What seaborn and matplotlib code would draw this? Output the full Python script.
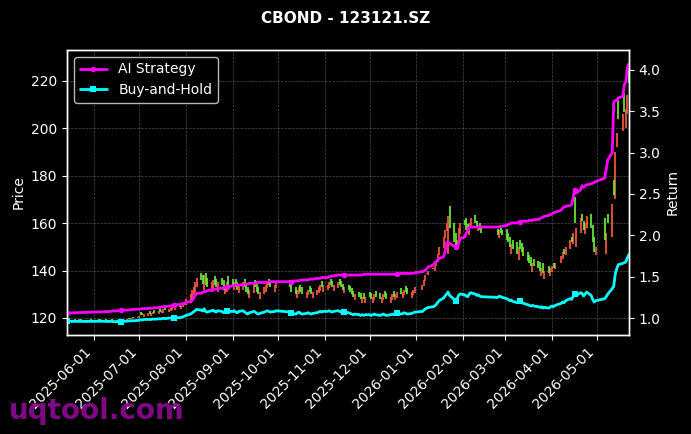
import pandas as pd
import numpy as np
import matplotlib
matplotlib.use('Agg')
import matplotlib.pyplot as plt
import matplotlib.dates as mdates
import seaborn as sns

# Trading calendar (SZ exchange holidays in the window)
holidays = ['2025-06-02', '2025-10-01', '2025-10-02', '2025-10-03', '2025-10-06',
            '2025-10-07', '2025-10-08', '2026-01-01', '2026-01-02', '2026-02-16',
            '2026-02-17', '2026-02-18', '2026-02-19', '2026-02-20', '2026-02-23',
            '2026-04-06', '2026-05-01', '2026-05-04', '2026-05-05']
dates = pd.bdate_range('2025-05-14', '2026-05-22', freq='C', holidays=holidays)

close_px = [
    119.2, 119.0, 119.3, 119.1, 118.9, 119.2, 119.4, 119.1, 119.0, 118.8, 119.1, 119.3, 119.0,
    119.2, 119.4, 119.1, 119.3, 119.0, 118.8, 119.1, 119.3, 118.9, 118.6, 118.5, 118.3, 118.7,
    119.0, 119.4, 119.5, 119.8, 120.1, 119.9, 120.4,
    121.0, 121.4, 121.2, 121.8, 122.1, 121.7, 122.3, 122.6, 122.2, 123.0, 122.7, 123.3, 123.6,
    123.2, 123.9, 124.2, 124.5, 124.1, 124.6, 124.5, 125.2, 125.9, 126.8,
    128.0, 130.0, 131.6, 133.0, 135.0, 137.0, 136.0, 134.5, 138.0, 134.0, 133.0, 135.0, 136.0,
    134.0, 133.0, 135.0, 134.0, 132.0, 133.0, 135.0, 134.0,
    134, 135, 133, 132, 134, 135, 133, 131, 130, 132, 134, 133, 131, 130, 131, 133, 134, 135,
    134, 133, 134, 135,
    133, 131, 130, 132, 133, 131, 130, 131, 132, 131, 130, 131, 132, 133, 134, 133, 134,
    134, 135, 134, 133, 134, 135, 134, 133, 132, 133, 132, 131, 130, 129, 130, 129, 128, 129,
    128, 129,
    129, 128, 129, 130, 129, 128, 129, 130, 129, 128, 129, 130, 129, 130, 131, 130, 131, 132,
    131, 130, 131, 132, 133,
    134, 136, 138, 139, 140, 141, 142, 144, 147, 150, 154, 157, 160, 163, 158, 152, 150, 153,
    158, 160,
    159, 157, 156, 160, 162, 160, 158, 159, 157, 156, 155, 157, 156, 155,
    153, 152, 150, 151, 149, 147, 150, 149, 148, 146, 144, 143, 142, 143, 142, 141, 140, 141,
    139, 140, 139, 141,
    142, 141, 143, 146, 148, 147, 150, 153, 152, 156, 160, 158, 162, 161, 157, 160, 163, 158,
    152, 148, 150,
    153, 156, 160, 168, 172, 190, 198, 204, 206, 207, 208, 214, 219,
]

open_px = [
    119.0, 119.4, 118.9, 119.5, 119.2, 118.8, 119.0, 119.6, 119.3, 119.2, 118.7, 119.0, 119.5,
    118.8, 119.0, 119.6, 118.9, 119.4, 119.2, 118.7, 119.0, 119.5, 119.0, 118.8, 118.7, 118.3,
    118.6, 119.0, 119.8, 119.4, 119.7, 120.4, 119.8,
    119.8, 122.5, 122.3, 120.6, 121.0, 123.0, 121.0, 121.5, 123.5, 121.8, 124.0, 122.0, 122.3,
    124.6, 122.6, 123.0, 123.3, 125.4, 123.3, 125.8, 123.8, 124.5, 125.3,
    125.5, 126.5, 128.0, 129.5, 131.0, 133.0, 139.0, 138.0, 132.0, 139.0, 137.0, 131.0, 132.5,
    137.5, 136.5, 131.0, 137.0, 136.0, 130.0, 131.0, 137.5,
    136.5, 132.0, 136.5, 135.0, 130.5, 132.0, 136.5, 134.5, 133.0, 128.5, 130.5, 136.0, 134.5,
    133.0, 128.0, 130.0, 131.0, 132.5, 136.5, 135.5, 131.0, 132.5,
    136.0, 134.5, 133.0, 128.5, 130.0, 134.0, 133.0, 128.5, 129.5, 133.5, 132.5, 128.5, 129.5,
    130.5, 131.5, 135.5, 131.0,
    132.0, 132.5, 136.5, 135.5, 131.5, 132.5, 136.5, 135.5, 134.5, 130.5, 134.0, 133.5, 132.5,
    131.5, 127.5, 131.0, 130.5, 126.5, 130.5, 126.5,
    131.0, 130.5, 126.5, 127.5, 131.5, 130.5, 126.5, 127.5, 131.5, 130.5, 126.5, 127.5, 131.5,
    127.5, 128.5, 132.5, 128.5, 129.5, 133.5, 132.5, 128.5, 129.5, 130.5,
    132.0, 133.5, 135.5, 138.5, 138.0, 140.5, 140.0, 142.0, 143.5, 146.5, 149.5, 153.5, 156.5,
    147.0, 167.0, 160.0, 156.0, 148.5, 151.0, 155.5,
    161.5, 162.0, 159.5, 155.0, 158.0, 163.5, 161.0, 156.5, 160.0, 158.5, 157.5, 153.5, 158.0,
    157.0,
    157.5, 156.0, 154.0, 147.0, 153.0, 152.0, 144.5, 153.0, 151.5, 150.0, 148.0, 146.5, 145.5,
    139.5, 145.0, 144.0, 143.5, 137.5, 143.0, 136.5, 142.0, 137.5,
    139.5, 143.0, 140.5, 143.0, 145.0, 149.0, 146.5, 149.0, 154.0, 151.0, 171.0, 150.0, 156.0,
    164.0, 161.0, 155.5, 158.0, 164.0, 159.0, 154.0, 146.5,
    162.0, 147.0, 164.0, 154.0, 178.0, 170.0, 192.0, 212.0, 199.0, 215.0, 200.0, 206.0, 227.0,
]

ai_return = [
    1.060, 1.061, 1.062, 1.063, 1.064, 1.065, 1.066, 1.067, 1.068, 1.069, 1.070, 1.071, 1.072,
    1.073, 1.074, 1.075, 1.076, 1.077, 1.078, 1.080, 1.082, 1.084, 1.086, 1.088, 1.090, 1.092,
    1.094, 1.096, 1.098, 1.100, 1.102, 1.104, 1.106,
    1.108, 1.110, 1.112, 1.114, 1.116, 1.118, 1.120, 1.122, 1.124, 1.127, 1.130, 1.133, 1.136,
    1.140, 1.144, 1.148, 1.152, 1.156, 1.160, 1.165, 1.170, 1.175, 1.180,
    1.19, 1.20, 1.21, 1.24, 1.27, 1.30, 1.30, 1.31, 1.32, 1.32, 1.33, 1.34, 1.34, 1.35, 1.35,
    1.36, 1.36, 1.37, 1.37, 1.38, 1.38,
    1.39, 1.39, 1.40, 1.40, 1.40, 1.40, 1.41, 1.41, 1.41, 1.42, 1.42, 1.42, 1.43, 1.43, 1.43,
    1.43, 1.43, 1.43, 1.44, 1.44, 1.44, 1.44,
    1.44, 1.44, 1.45, 1.45, 1.45, 1.46, 1.46, 1.46, 1.46, 1.47, 1.47, 1.47, 1.48, 1.48, 1.48,
    1.49, 1.49,
    1.49, 1.50, 1.50, 1.51, 1.51, 1.52, 1.52, 1.52, 1.52, 1.52, 1.52, 1.52, 1.52, 1.52, 1.52,
    1.52, 1.52, 1.52, 1.53, 1.53,
    1.53, 1.53, 1.53, 1.53, 1.53, 1.53, 1.53, 1.53, 1.53, 1.53, 1.53, 1.53, 1.53, 1.53, 1.53,
    1.54, 1.54, 1.54, 1.54, 1.54, 1.54, 1.54, 1.55,
    1.56, 1.57, 1.58, 1.60, 1.62, 1.64, 1.66, 1.68, 1.70, 1.72, 1.74, 1.80, 1.91, 1.92, 1.90,
    1.87, 1.86, 1.86, 1.90, 1.96,
    1.98, 2.02, 2.06, 2.10, 2.10, 2.10, 2.10, 2.10, 2.10, 2.10, 2.10, 2.10, 2.11, 2.11,
    2.12, 2.13, 2.14, 2.15, 2.15, 2.15, 2.16, 2.16, 2.16, 2.17, 2.17, 2.18, 2.18, 2.18, 2.19,
    2.19, 2.20, 2.21, 2.22, 2.23, 2.24, 2.25,
    2.26, 2.27, 2.28, 2.30, 2.33, 2.34, 2.35, 2.36, 2.37, 2.45, 2.55, 2.51, 2.55, 2.60, 2.58,
    2.60, 2.61, 2.62, 2.63, 2.64, 2.65,
    2.69, 2.80, 2.91, 3.00, 3.61, 3.63, 3.63, 3.66, 3.68, 3.82, 3.85, 4.02, 4.07,
]

bh_base = 124.0  # entry price for buy-and-hold

df = pd.DataFrame({'date': dates, 'open': open_px, 'close': close_px, 'ai': ai_return})
df['bh'] = df['close'] / bh_base

sns.set_style('dark')
plt.rcParams['font.family'] = ['DejaVu Sans']

fig, ax = plt.subplots(figsize=(6.91, 4.34), dpi=100)
fig.patch.set_facecolor('black')
ax.set_facecolor('black')
fig.subplots_adjust(left=0.097, right=0.910, top=0.885, bottom=0.228)

# candles: red = up, green = down
up = df[df['close'] >= df['open']]
dn = df[df['close'] < df['open']]
ax.vlines(up['date'], up['open'], up['close'], color='#ff5a40', lw=1.5, alpha=0.85)
ax.vlines(dn['date'], dn['open'], dn['close'], color='#6cf03a', lw=1.5, alpha=0.85)

ax.set_ylim(112.8, 233)
ax.set_xlim(df['date'].iloc[0], df['date'].iloc[-1])
ax.set_ylabel('Price', color='white', fontsize=10)
ax.grid(True, color='gray', linestyle='--', linewidth=0.5, alpha=0.6)

ax2 = ax.twinx()
sns.lineplot(data=df, x='date', y='ai', ax=ax2, color='#ff00ff', lw=2,
             marker='o', markersize=4, markevery=25, markeredgewidth=0, label='AI Strategy')
sns.lineplot(data=df, x='date', y='bh', ax=ax2, color='#00ffff', lw=2,
             marker='s', markersize=4, markevery=25, markeredgewidth=0, label='Buy-and-Hold')
ax2.set_ylim(0.795, 4.24)
ax2.set_ylabel('Return', color='white', fontsize=10)
ax2.set_xlabel('')
ax2.grid(False)

ax.xaxis.set_major_locator(mdates.MonthLocator())
ax.xaxis.set_major_formatter(mdates.DateFormatter('%Y-%m-%d'))
ax.set_xlabel('')
for a in (ax, ax2):
    a.tick_params(colors='white', labelsize=10, length=3.5, width=0.8)
    for s in a.spines.values():
        s.set_color('white')
        s.set_linewidth(1)
ax.tick_params(bottom=True, left=True)
ax2.tick_params(right=True)
plt.setp(ax.get_xticklabels(), rotation=45, ha='right')

ax2.legend(loc='upper left', facecolor='black', edgecolor='#cccccc',
           labelcolor='white', fontsize=10, framealpha=0.9)

fig.suptitle('CBOND - 123121.SZ', color='white', fontsize=11, fontweight='bold', y=0.975)
fig.text(0.013, 0.035, 'uqtool.com', fontsize=20, fontweight='bold', color='#8e0a94', alpha=0.9)

fig.savefig('out.png', dpi=100, facecolor='black')
